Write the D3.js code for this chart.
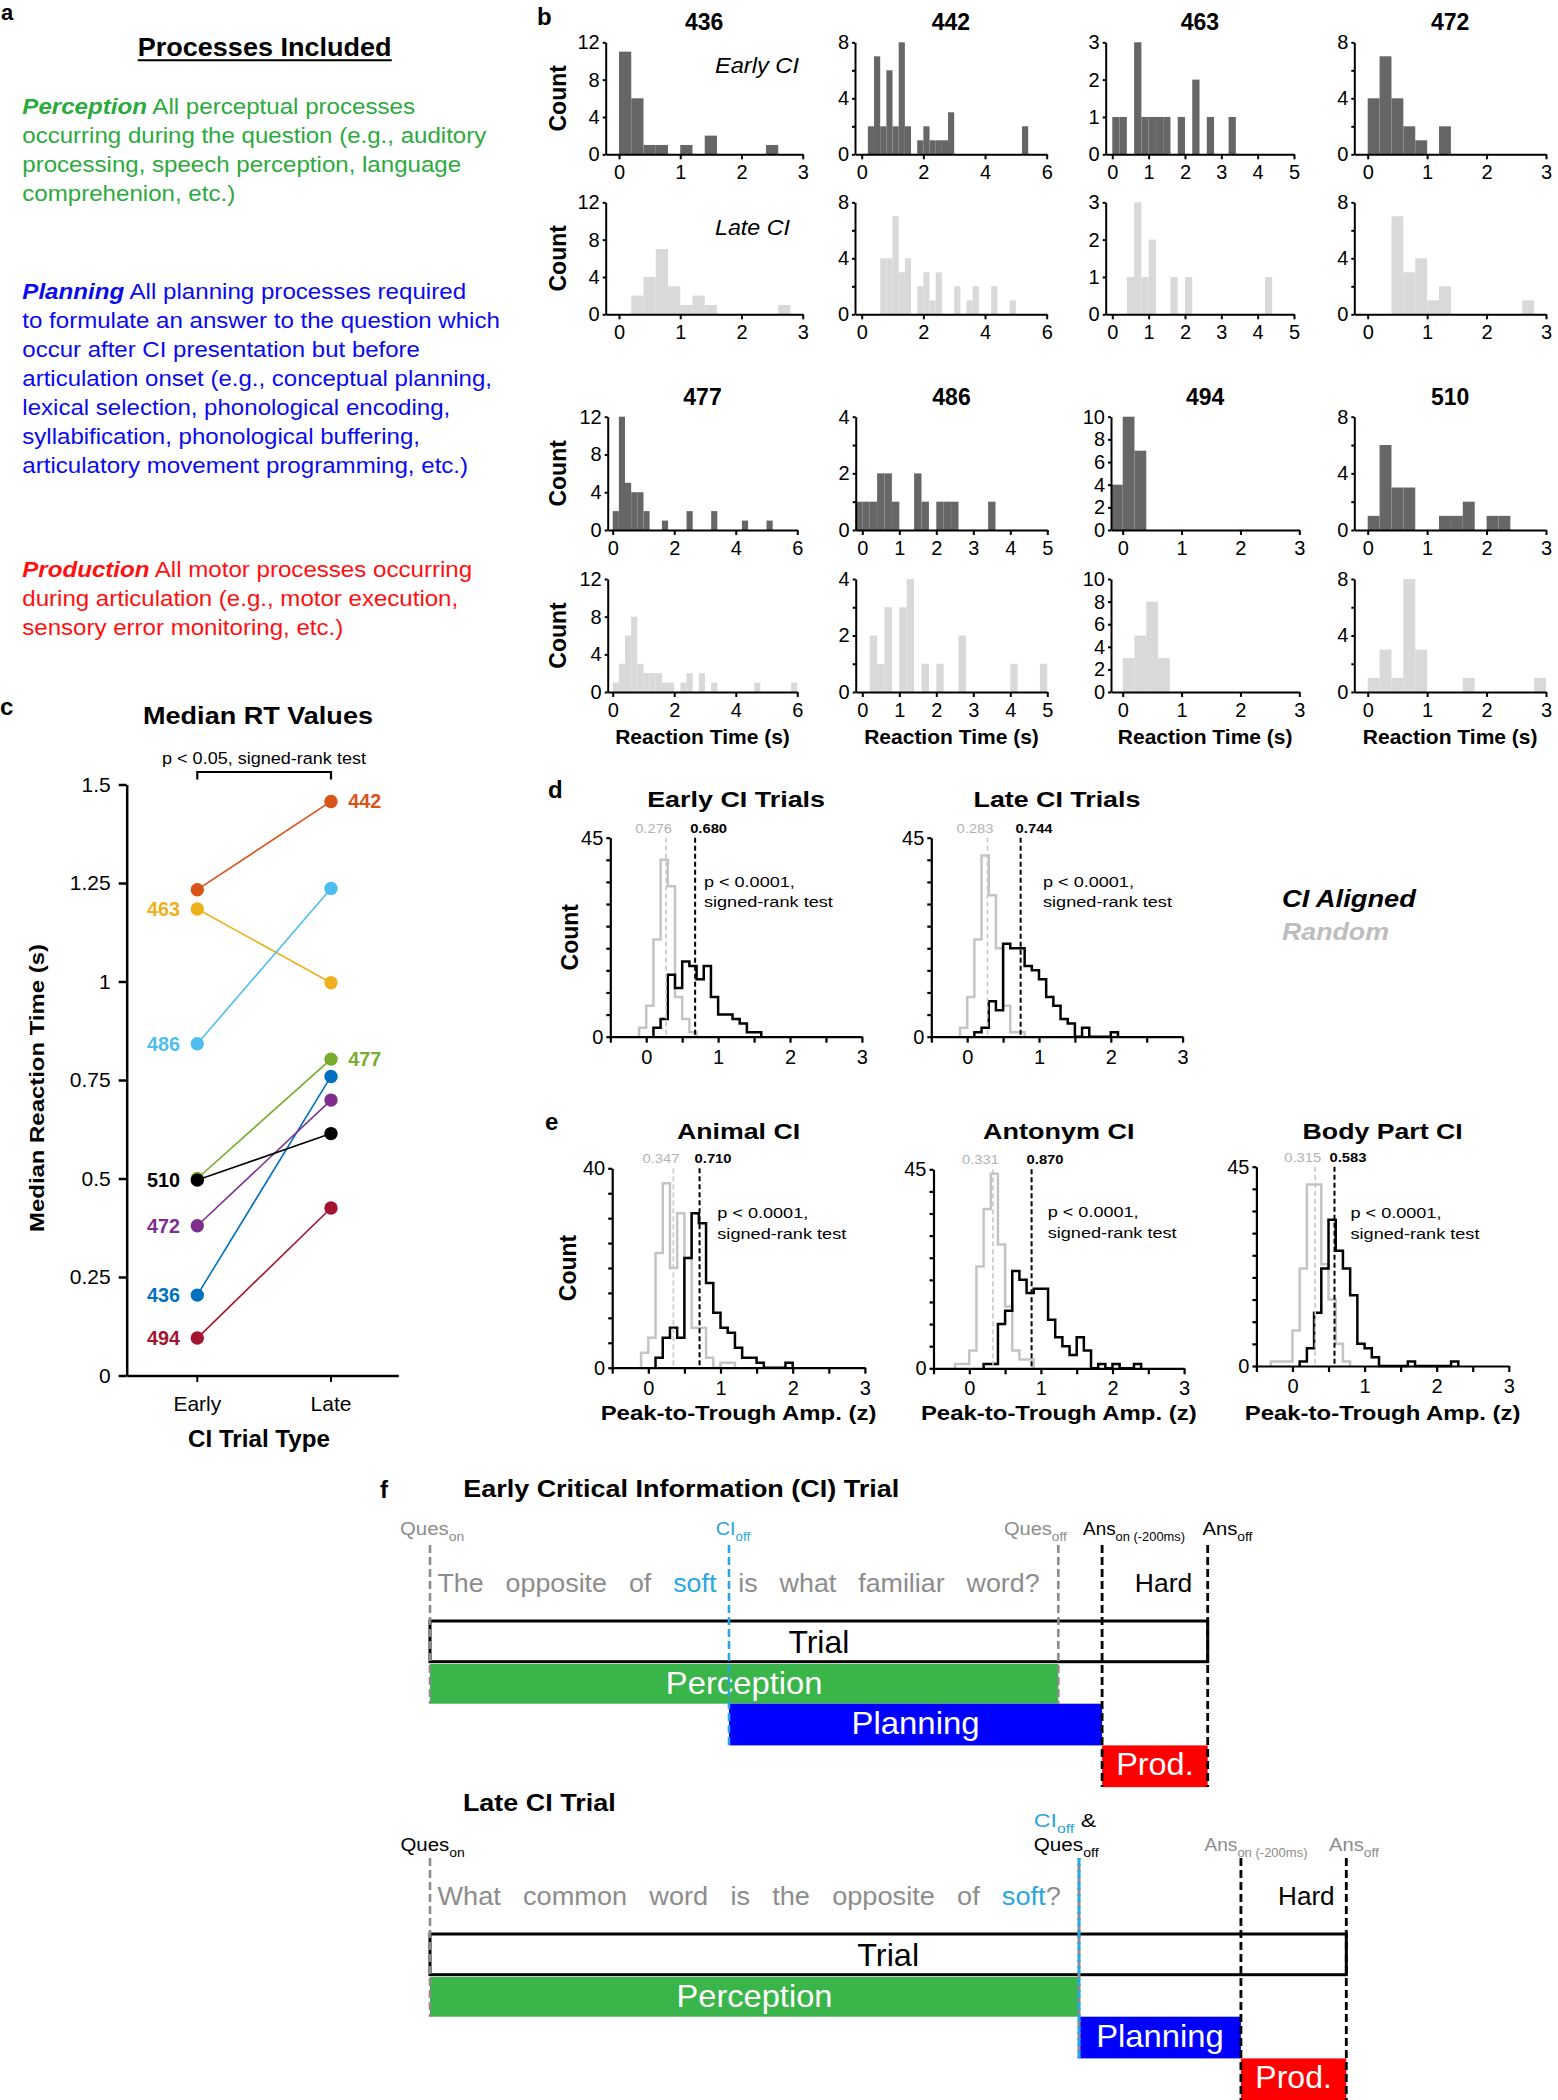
<!DOCTYPE html>
<html><head><meta charset="utf-8">
<script src="https://cdn.jsdelivr.net/npm/d3@7"></script>
<style>body{margin:0;background:#fff}</style>
</head><body>
<svg id="fig" width="1558" height="2100" xmlns="http://www.w3.org/2000/svg"></svg>
<script>
// ================= DATA =================
// Panel b: reaction-time histograms (bin width 0.2 s)
const subjects = ["436","442","463","472","477","486","494","510"];
const rtBinWidth = 0.2;
const rtEarly436 = [11,6,1,1,0,1,0,2,0,0,0,0,1];
const rtLate436  = [0,2,4,7,3,1,2,1,0,0,0,0,0,1];
const rtEarly442 = [0,2,7,2,6,2,8,2,0,1,2,1,1,1,3,0,0,0,0,0,0,0,0,0,0,0,2];
const rtLate442  = [0,0,0,4,4,7,3,4,0,2,3,1,3,0,0,2,0,1,2,0,0,2,0,0,1];
const rtEarly463 = [1,1,0,3,1,1,1,1,0,1,0,2,0,1,0,0,1];
const rtLate463  = [0,0,1,3,1,2,0,0,1,0,1,0,0,0,0,0,0,0,0,0,0,1];
const rtEarly472 = [4,7,4,2,1,0,2];
const rtLate472  = [0,0,7,3,4,1,2,0,0,0,0,0,0,1];
const rtEarly477 = [2,12,5,4,4,2,0,0,1,0,0,0,2,0,0,0,2,0,0,0,0,1,0,0,0,1];
const rtLate477  = [1,3,6,8,3,2,2,2,1,1,0,1,2,0,2,0,1,0,0,0,0,0,0,1,0,0,0,0,0,1];
const rtEarly486 = [1,1,1,2,2,1,0,0,2,1,0,1,1,1,0,0,0,0,1];
const rtLate486  = [0,2,1,3,0,3,4,0,1,0,1,0,0,2,0,0,0,0,0,0,1,0,0,0,1];
const rtEarly494 = [4,10,7];
const rtLate494  = [3,5,8,3];
const rtEarly510 = [1,6,3,3,0,0,1,1,2,0,1,1];
const rtLate510  = [1,3,1,8,3,0,0,0,1,0,0,0,0,0,1];
const rtEarlyStart = [0,0,0,0,0,-0.2,-0.2,0];
const rtLateStart  = [0,0,0,0,0,0,0,0];
const rtXMax      = [3,6,5,3,6,5,3,3];
const rtXTickStep = [1,2,1,1,2,1,1,1];
const rtYMax      = [12,8,3,8,12,4,10,8];
const rtYLabelStep= [4,4,1,4,4,2,2,4];
const rtYMinorStep= [4,2,1,2,4,1,2,2];

// Panel c: median RT values (s)
const medianEarly = [0.204,1.233,1.184,0.380,0.500,0.842,0.095,0.496];
const medianLate  = [0.759,1.457,0.997,0.699,0.803,1.236,0.425,0.614];
const subjectColors = ["#0072BD","#D95319","#EDB120","#7E2F8E","#77AC30","#4DBEEE","#A2142F","#000000"];
const labelSide = ["left","right","left","left","right","left","left","left"];
const trialTypes = ["Early","Late"];
const medianTicks = [0,0.25,0.5,0.75,1,1.25,1.5];

// Panels d/e: peak-to-trough amplitude histograms (bin width 0.1)
const ampBin = 0.1;
const dEarlyRandom  = [2,7,22,40,34,9,4,1];                      // from -0.1
const dEarlyAligned = [2,4,14,11,17,16,13,16,9,5,5,4,3,1,1];     // from 0.1
const dLateRandom   = [2,9,22,41,32,20,7,1,1];                   // from -0.1
const dLateAligned  = [1,2,8,6,21,20,20,16,15,13,9,7,4,3,0,2,0,0,0,1]; // from 0.1
const eAnimalRandom  = [3,6,23,37,20,31,22,8,8,2,0,1,1];         // from -0.1
const eAnimalAligned = [2,6,8,6,22,31,29,17,11,8,7,4,2,2,1,0,0,0,1]; // from 0.1
const eAntonymRandom  = [1,1,4,23,36,44,28,14,4,2,2];            // from -0.2
const eAntonymAligned = [1,1,10,13,22,20,17,18,18,11,7,5,3,7,4,0,1,0,1,0,0,1]; // from 0.2
const eBodyRandom  = [1,1,1,8,22,41,41,23,15,5,1];               // from -0.3
const eBodyAligned = [1,4,12,22,33,26,22,16,5,4,2,0,0,0,0,1,0,0,0,0,0,1]; // from 0.1
const ampTitles   = ["Early CI Trials","Late CI Trials","Animal CI","Antonym CI","Body Part CI"];
const ampRandStart= [-0.1,-0.1,-0.1,-0.2,-0.3];
const ampAlStart  = [0.1,0.1,0.1,0.2,0.1];
const ampYMax     = [45,45,40,45,45];
const ampMedRandom  = [0.276,0.283,0.347,0.331,0.315];
const ampMedAligned = [0.680,0.744,0.710,0.870,0.583];
const ampXTicks = [0,1,2,3];

// Panel f: schematic event times (arbitrary units): Ques_on, CI_off, Ques_off, Ans_on(-200ms), Ans_off
const earlyTimes = [0, 1.359, 2.856, 3.055, 3.535];
const lateTimes  = [0, 2.95, 2.95, 3.686, 4.165];
const earlyWords = ["The","opposite","of","soft","is","what","familiar","word?"];
const lateWords  = ["What","common","word","is","the","opposite","of","soft","?"];

// ================= HELPERS =================
const FONT = '"Liberation Sans", Arial, Helvetica, sans-serif';
const svg = d3.select("#fig");
svg.append("rect").attr("width",1558).attr("height",2100).attr("fill","#fff");

function txt(parent, o) {
  let tr = `translate(${o.x},${o.y})`;
  if (o.rotate) tr += ` rotate(${o.rotate})`;
  const g = parent.append("g").attr("transform", tr);
  const t = g.append("text")
    .attr("text-anchor", o.anchor || "start")
    .attr("font-family", FONT)
    .attr("font-size", o.size)
    .attr("font-weight", o.weight || "normal")
    .attr("font-style", o.italic ? "italic" : "normal")
    .attr("fill", o.fill || "#000");
  if (o.spacing) t.style("word-spacing", o.spacing + "px");
  if (o.dy) t.attr("dy", o.dy);
  const parts = o.parts || [{t: o.text}];
  parts.forEach(p => {
    const s = t.append("tspan").text(p.t);
    if (p.fill) s.attr("fill", p.fill);
    if (p.weight) s.attr("font-weight", p.weight);
    if (p.italic) s.attr("font-style", "italic");
    if (p.size) s.attr("font-size", p.size);
    if (p.dy) s.attr("dy", p.dy);
  });
  let sx = o.sx || 1, sy = o.sy || 1;
  if (o.width) sx = o.width / t.node().getComputedTextLength();
  if (sx !== 1 || sy !== 1) t.attr("transform", `scale(${sx},${sy})`);
  return t;
}
function styleAxis(g, fs, sw) {
  g.attr("font-family", FONT);
  g.select(".domain").attr("stroke", "#000").attr("stroke-width", sw);
  g.selectAll(".tick line").attr("stroke", "#000").attr("stroke-width", sw);
  g.selectAll(".tick text").attr("font-size", fs).attr("fill", "#000").attr("font-family", FONT);
  g.selectAll(".tick text").filter(function () { return this.textContent === ""; }).remove();
}
function panelLetter(l, x, y, size) { txt(svg, {x, y, text: l, size: size || 24, weight: "bold"}); }

// ================= PANEL a =================
panelLetter("a", 1, 20, 22);
txt(svg, {x: 137.7, y: 56, text: "Processes Included", size: 25, weight: "bold", width: 254});
svg.append("line").attr("x1",137.7).attr("x2",391.7).attr("y1",60.3).attr("y2",60.3).attr("stroke","#000").attr("stroke-width",2);

const aBlocks = [
  {color:"#2caa3e", head:"Perception", y0: 114,
   lines:[" All perceptual processes","occurring during the question (e.g., auditory","processing, speech perception, language","comprehenion, etc.)"],
   widths:[393,464,439,213]},
  {color:"#0a0aee", head:"Planning", y0: 298.5,
   lines:[" All planning processes required","to formulate an answer to the question which","occur after CI presentation but before","articulation onset (e.g., conceptual planning,","lexical selection, phonological encoding,","syllabification, phonological buffering,","articulatory movement programming, etc.)"],
   widths:[444,478,398,470,428,398,446]},
  {color:"#ff1010", head:"Production", y0: 577,
   lines:[" All motor processes occurring","during articulation (e.g., motor execution,","sensory error monitoring, etc.)"],
   widths:[450,436,321]}
];
aBlocks.forEach(b => {
  b.lines.forEach((ln, j) => {
    const parts = j === 0 ? [{t: b.head, weight: "bold", italic: true}, {t: ln}] : [{t: ln}];
    txt(svg, {x: 22.3, y: b.y0 + j * 29.0, parts, size: 22, fill: b.color, width: b.widths[j]});
  });
});

// ================= PANEL b =================
panelLetter("b", 537, 25);
const bAxisX = [605.7, 855, 1105.7, 1354.3, 607.7, 855.7, 1111, 1354.3];
const bZeroX = [619, 861.7, 1112.3, 1367.7, 612.7, 862.3, 1122.7, 1367.7];
const bMaxX  = [802.7, 1046.7, 1294, 1546, 797.3, 1047.3, 1299.3, 1546];
const bPlotY = [[42.3,154.3],[202.3,314.3],[416.7,530],[579,692]];
const rtEarly = [rtEarly436,rtEarly442,rtEarly463,rtEarly472,rtEarly477,rtEarly486,rtEarly494,rtEarly510];
const rtLate  = [rtLate436,rtLate442,rtLate463,rtLate472,rtLate477,rtLate486,rtLate494,rtLate510];

subjects.forEach((s, i) => {
  const row = Math.floor(i / 4), col = i % 4;
  const xs = d3.scaleLinear().domain([0, rtXMax[i]]).range([bZeroX[i], bMaxX[i]]);
  const xa = d3.scaleLinear().domain([xs.invert(bAxisX[i]), rtXMax[i]]).range([bAxisX[i], bMaxX[i]]);
  const cx = (bAxisX[i] + bMaxX[i]) / 2;
  txt(svg, {x: cx, y: row === 0 ? 29.5 : 404.5, text: s, size: 23, weight: "bold", anchor: "middle"});
  [0, 1].forEach(k => {
    const [top, bot] = bPlotY[row * 2 + k];
    const ys = d3.scaleLinear().domain([0, rtYMax[i]]).range([bot, top]);
    const counts = k === 0 ? rtEarly[i] : rtLate[i];
    const start = k === 0 ? rtEarlyStart[i] : rtLateStart[i];
    const g = svg.append("g");
    const bins = counts.map((c, j) => ({c, x0: start + j * rtBinWidth})).filter(d => d.c > 0);
    g.selectAll("rect").data(bins).join("rect")
      .attr("x", d => Math.max(xs(d.x0), bAxisX[i]))
      .attr("width", d => xs(d.x0 + rtBinWidth) - Math.max(xs(d.x0), bAxisX[i]))
      .attr("y", d => ys(d.c)).attr("height", d => ys(0) - ys(d.c))
      .attr("fill", k === 0 ? "#666666" : "#d9d9d9");
    const yTicks = d3.range(0, rtYMax[i] + 1e-9, rtYMinorStep[i]);
    const yAx = svg.append("g").attr("transform", `translate(${bAxisX[i]},0)`)
      .call(d3.axisLeft(ys).tickValues(yTicks).tickSize(3).tickPadding(3).tickSizeOuter(0)
        .tickFormat(v => (Math.round(v) % rtYLabelStep[i] === 0) ? v : ""));
    styleAxis(yAx, 20, 2);
    const xTicks = d3.range(0, rtXMax[i] + 1e-9, rtXTickStep[i]);
    const xAx = svg.append("g").attr("transform", `translate(0,${bot})`)
      .call(d3.axisBottom(xa).tickValues(xTicks).tickSize(5).tickPadding(6).tickSizeOuter(0).tickFormat(d3.format("d")));
    styleAxis(xAx, 20, 2);
    if (col === 0) txt(svg, {x: 566, y: (top + bot) / 2, text: "Count", size: 23, weight: "bold", anchor: "middle", rotate: -90});
  });
  if (row === 1) txt(svg, {x: cx, y: 744, text: "Reaction Time (s)", size: 21, weight: "bold", anchor: "middle"});
});
txt(svg, {x: 715, y: 72.7, text: "Early CI", size: 22, italic: true, width: 84});
txt(svg, {x: 715, y: 235, text: "Late CI", size: 22, italic: true, width: 75});

// ================= PANEL c =================
panelLetter("c", 0, 715);
{
  const yS = d3.scaleLinear().domain([0, 1.5]).range([1375.5, 784.5]);
  const xS = d3.scalePoint().domain(trialTypes).range([197.3, 331]);
  txt(svg, {x: 258, y: 723.8, text: "Median RT Values", size: 24, weight: "bold", anchor: "middle", width: 230});
  txt(svg, {x: 264, y: 763.6, text: "p < 0.05, signed-rank test", size: 17, anchor: "middle", width: 204});
  svg.append("path").attr("d", `M${xS("Early")},779.5 V772 H${xS("Late")} V779.5`).attr("fill","none").attr("stroke","#000").attr("stroke-width",2.2);
  const yAx = svg.append("g").attr("transform", "translate(126.7,0)")
    .call(d3.axisLeft(yS).tickValues(medianTicks).tickSize(8).tickPadding(8).tickSizeOuter(0).tickFormat(d => d3.format("")(d)));
  styleAxis(yAx, 21, 2.5);
  const xAx = svg.append("g").attr("transform", "translate(0,1375.5)")
    .call(d3.axisBottom(d3.scaleLinear().domain([126.7, 398.3]).range([126.7, 398.3])).tickValues([]).tickSizeOuter(0));
  styleAxis(xAx, 21, 2.5);
  trialTypes.forEach(t => {
    svg.append("line").attr("x1", xS(t)).attr("x2", xS(t)).attr("y1", 1375.5).attr("y2", 1382).attr("stroke","#000").attr("stroke-width",2);
    txt(svg, {x: xS(t), y: 1411.3, text: t, size: 21, anchor: "middle"});
  });
  txt(svg, {x: 259, y: 1447, text: "CI Trial Type", size: 23, weight: "bold", anchor: "middle", width: 142});
  txt(svg, {x: 36.7, y: 1088, text: "Median Reaction Time (s)", size: 20, weight: "bold", anchor: "middle", rotate: -90, width: 288, dy: "0.35em"});
  const g = svg.append("g");
  subjects.forEach((s, i) => {
    g.append("line").attr("x1", xS("Early")).attr("y1", yS(medianEarly[i]))
      .attr("x2", xS("Late")).attr("y2", yS(medianLate[i]))
      .attr("stroke", subjectColors[i]).attr("stroke-width", 1.6);
    [[medianEarly[i], "Early"], [medianLate[i], "Late"]].forEach(([v, t]) => {
      g.append("circle").attr("cx", xS(t)).attr("cy", yS(v)).attr("r", 6.7).attr("fill", subjectColors[i]);
    });
    if (labelSide[i] === "left") txt(svg, {x: 180, y: yS(medianEarly[i]), text: s, size: 20, weight: "bold", anchor: "end", fill: subjectColors[i], dy: "0.35em", width: 33});
    else txt(svg, {x: 348.3, y: yS(medianLate[i]), text: s, size: 20, weight: "bold", anchor: "start", fill: subjectColors[i], dy: "0.35em", width: 33});
  });
}

// ================= PANELS d / e =================
panelLetter("d", 548, 798);
panelLetter("e", 545, 1130);
const ampRandom  = [dEarlyRandom, dLateRandom, eAnimalRandom, eAntonymRandom, eBodyRandom];
const ampAligned = [dEarlyAligned, dLateAligned, eAnimalAligned, eAntonymAligned, eBodyAligned];
const ampLayout = [
  {left: 610.3, right: 861.9, top: 837.7, bottom: 1036.7, titleY: 806.7, titleW: 178, pX: 703.9, pY: 886.7, count: 570.4, xlabel: false},
  {left: 931.3, right: 1182.6, top: 837.7, bottom: 1036.7, titleY: 806.7, titleW: 167, pX: 1043, pY: 886.7, count: null, xlabel: false},
  {left: 612.2, right: 864.9, top: 1168.3, bottom: 1367.7, titleY: 1139.3, titleW: 123.3, pX: 717.3, pY: 1218.3, count: 568.3, xlabel: true},
  {left: 933.5, right: 1184.1, top: 1169.3, bottom: 1368.3, titleY: 1139.3, titleW: 151.7, pX: 1047.7, pY: 1217.3, count: null, xlabel: true},
  {left: 1256.4, right: 1508.8, top: 1166.7, bottom: 1366, titleY: 1139.3, titleW: 160, pX: 1350.5, pY: 1218.3, count: null, xlabel: true}
];
function stepPoints(start, counts) {
  const pts = [[start, 0]];
  counts.forEach((c, j) => { pts.push([start + j * ampBin, c]); pts.push([start + (j + 1) * ampBin, c]); });
  pts.push([start + counts.length * ampBin, 0]);
  return pts;
}
ampTitles.forEach((title, i) => {
  const L = ampLayout[i];
  const xs = d3.scaleLinear().domain([-0.5, 3]).range([L.left, L.right]);
  const ys = d3.scaleLinear().domain([0, ampYMax[i]]).range([L.bottom, L.top]);
  const line = d3.line().x(d => xs(d[0])).y(d => ys(d[1]));
  svg.append("path").attr("d", line(stepPoints(ampRandStart[i], ampRandom[i])))
    .attr("fill", "none").attr("stroke", "#c4c4c4").attr("stroke-width", 2.5);
  svg.append("path").attr("d", line(stepPoints(ampAlStart[i], ampAligned[i])))
    .attr("fill", "none").attr("stroke", "#000").attr("stroke-width", 2.5);
  svg.append("line").attr("x1", xs(ampMedRandom[i])).attr("x2", xs(ampMedRandom[i]))
    .attr("y1", L.top).attr("y2", L.bottom).attr("stroke", "#c8c8c8").attr("stroke-width", 1.6).attr("stroke-dasharray", "5,3");
  svg.append("line").attr("x1", xs(ampMedAligned[i])).attr("x2", xs(ampMedAligned[i]))
    .attr("y1", L.top).attr("y2", L.bottom).attr("stroke", "#000").attr("stroke-width", 2).attr("stroke-dasharray", "5,3");
  txt(svg, {x: xs(ampMedRandom[i]) + 6, y: L.top - 5, text: d3.format(".3f")(ampMedRandom[i]), size: 13.5, anchor: "end", fill: "#b3b3b3", width: 37});
  txt(svg, {x: xs(ampMedAligned[i]) - 5, y: L.top - 5, text: d3.format(".3f")(ampMedAligned[i]), size: 13.5, weight: "bold", anchor: "start", width: 37});
  txt(svg, {x: L.pX, y: L.pY, text: "p < 0.0001,", size: 15.5, width: 91});
  txt(svg, {x: L.pX, y: L.pY + 20.6, text: "signed-rank test", size: 15.5, width: 129});
  const yAx = svg.append("g").attr("transform", `translate(${L.left},0)`)
    .call(d3.axisLeft(ys).tickValues(d3.range(0, ampYMax[i] + 1e-9, 5)).tickSize(4).tickPadding(3).tickSizeOuter(0)
      .tickFormat(v => (v === 0 || v === ampYMax[i]) ? v : ""));
  styleAxis(yAx, 20, 2.2);
  const xAx = svg.append("g").attr("transform", `translate(0,${L.bottom})`)
    .call(d3.axisBottom(xs).tickValues(d3.range(-0.5, 3.001, 0.5)).tickSize(6).tickPadding(7).tickSizeOuter(0)
      .tickFormat(v => ampXTicks.includes(v) ? v : ""));
  styleAxis(xAx, 20, 2.2);
  const cx = (L.left + L.right) / 2;
  txt(svg, {x: cx, y: L.titleY, text: title, size: 22, weight: "bold", anchor: "middle", width: L.titleW});
  if (L.count) txt(svg, {x: L.count, y: (L.top + L.bottom) / 2, text: "Count", size: 23, weight: "bold", anchor: "middle", rotate: -90, dy: "0.35em"});
  if (L.xlabel) txt(svg, {x: cx, y: 1420, text: "Peak-to-Trough Amp. (z)", size: 21, weight: "bold", anchor: "middle", width: 276});
});
txt(svg, {x: 1282, y: 907, text: "CI Aligned", size: 24, weight: "bold", italic: true, width: 134});
txt(svg, {x: 1282, y: 940, text: "Random", size: 24, weight: "bold", italic: true, fill: "#bdbdbd", width: 107});

// ================= PANEL f =================
txt(svg, {x: 380, y: 1498, text: "f", size: 24, weight: "bold"});
const tx = d3.scaleLinear().domain([0, 4]).range([430, 1310]);
const GRAY = "#8c8c8c", CIBLUE = "#29a6e0";

function timeline(times, words, o) {
  const [qOn, ciOff, qOff, aOn, aOff] = times.map(tx);
  const trialTop = o.trialTop, rowH = 40.7;
  svg.append("rect").attr("x", qOn).attr("y", trialTop).attr("width", aOff - qOn).attr("height", rowH)
    .attr("fill", "none").attr("stroke", "#000").attr("stroke-width", 3);
  const pTop = trialTop + rowH + 2.3;
  svg.append("rect").attr("x", qOn).attr("y", pTop).attr("width", qOff - qOn).attr("height", rowH - 1).attr("fill", "#3ab54a");
  svg.append("rect").attr("x", ciOff).attr("y", pTop + rowH - 1).attr("width", aOn - ciOff).attr("height", rowH + 1).attr("fill", "#0000ff");
  svg.append("rect").attr("x", aOn).attr("y", pTop + 2 * rowH).attr("width", aOff - aOn).attr("height", rowH + 1).attr("fill", "#ff0000");
  txt(svg, {x: (qOn + aOff) / 2, y: trialTop + 32, text: "Trial", size: 32, anchor: "middle", width: o.trialW});
  txt(svg, {x: (qOn + qOff) / 2, y: pTop + 29.5, text: "Perception", size: 32, anchor: "middle", fill: "#fff", width: o.percW});
  txt(svg, {x: (ciOff + aOn) / 2, y: pTop + rowH + 29.5, text: "Planning", size: 32, anchor: "middle", fill: "#fff", width: o.planW});
  txt(svg, {x: (aOn + aOff) / 2, y: pTop + 2 * rowH + 29.5, text: "Prod.", size: 32, anchor: "middle", fill: "#fff", width: o.prodW});
  const parts = [];
  words.forEach((w, j) => {
    const sp = (j > 0 && w !== "?") ? " " : "";
    parts.push({t: sp + w, fill: w === "soft" ? CIBLUE : GRAY});
  });
  txt(svg, {x: o.sentX, y: o.sentY, parts, size: 26, spacing: 14, width: o.sentW});
  txt(svg, {x: o.hardX, y: o.sentY, text: "Hard", size: 26, width: o.hardW});
  const top = o.lineTop;
  const dl = (x, y2, color, w, off) => svg.append("line").attr("x1", x).attr("x2", x).attr("y1", top).attr("y2", y2)
    .attr("stroke", color).attr("stroke-width", w).attr("stroke-dasharray", "8,4").attr("stroke-dashoffset", off || 0);
  dl(qOn, pTop + rowH - 1, GRAY, 2.6);
  if (o.late) { dl(qOff, pTop + 2 * rowH, GRAY, 3, 6); dl(ciOff, pTop + 2 * rowH, CIBLUE, 3); }
  else { dl(qOff, pTop + rowH - 1, GRAY, 2.6); dl(ciOff, pTop + 2 * rowH, CIBLUE, 2.6); }
  dl(aOn, pTop + 3 * rowH + 1, "#000", 2.8);
  dl(aOff, pTop + 3 * rowH + 1, "#000", 2.8);
}
function evLabel(x, y, main, sub, color, width, extra) {
  const parts = [{t: main}, {t: sub, size: 13, dy: 6}];
  if (extra) parts.push({t: extra, dy: -6, fill: "#000"});
  txt(svg, {x, y, parts, size: 19, fill: color, width});
}

txt(svg, {x: 463.2, y: 1497.3, text: "Early Critical Information (CI) Trial", size: 24, weight: "bold", width: 436.3});
evLabel(400, 1535, "Ques", "on", GRAY, 64.3);
evLabel(715.8, 1535, "CI", "off", CIBLUE, 34.4);
evLabel(1003.9, 1535, "Ques", "off", GRAY, 63);
evLabel(1083.1, 1535, "Ans", "on (-200ms)", "#000", 102);
evLabel(1202.5, 1535, "Ans", "off", "#000", 50);
timeline(earlyTimes, earlyWords, {trialTop: 1621, lineTop: 1545, sentX: 437.4, sentY: 1591.7, sentW: 602.6,
  hardX: 1134.8, hardW: 57.4, trialW: 60.8, percW: 156.7, planW: 128, prodW: 77.5, late: false});

txt(svg, {x: 462.9, y: 1810.7, text: "Late CI Trial", size: 24, weight: "bold", width: 153});
evLabel(400.4, 1850.7, "Ques", "on", "#000", 64.4);
evLabel(1033.7, 1826.7, "CI", "off", CIBLUE, 62.5, " &");
evLabel(1033.7, 1850.7, "Ques", "off", "#000", 65);
evLabel(1204.6, 1850.7, "Ans", "on (-200ms)", GRAY, 103);
evLabel(1329, 1850.7, "Ans", "off", GRAY, 50);
timeline(lateTimes, lateWords, {trialTop: 1934, lineTop: 1858, sentX: 437.4, sentY: 1905, sentW: 623.7,
  hardX: 1278, hardW: 56.7, trialW: 62, percW: 156, planW: 127.5, prodW: 76.5, late: true});
</script>
</body></html>
